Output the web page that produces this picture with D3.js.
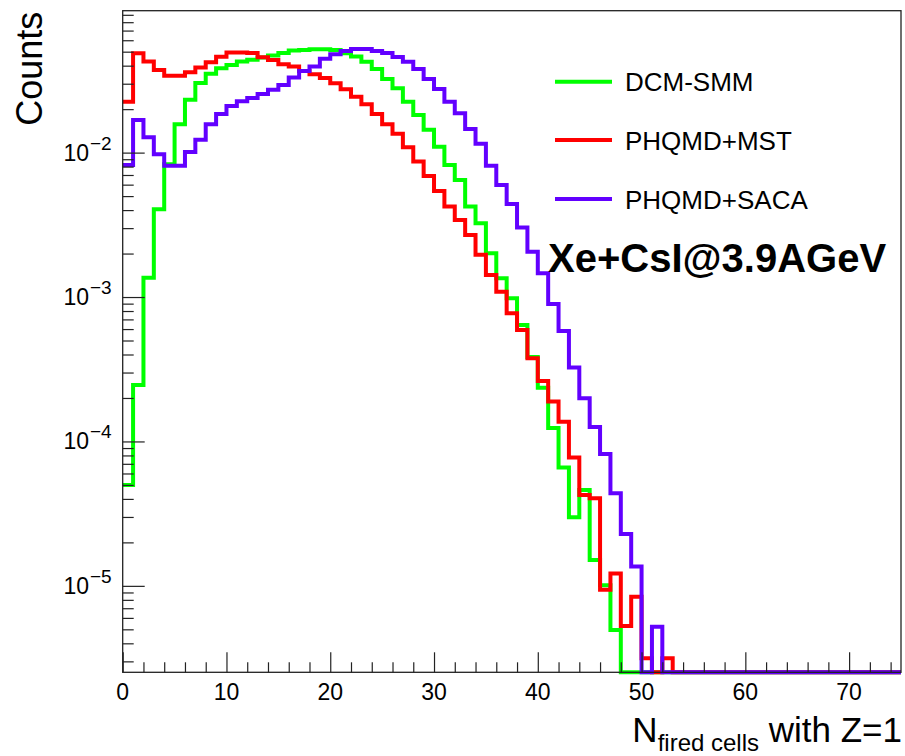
<!DOCTYPE html>
<html>
<head>
<meta charset="utf-8">
<script src="https://cdn.jsdelivr.net/npm/d3@7"></script>
<style>
  html, body { margin: 0; padding: 0; background: #fff; }
  svg { display: block; }
  text { font-family: "Liberation Sans", Arial, Helvetica, sans-serif; fill: #000; }
</style>
</head>
<body>
<svg id="chart" width="905" height="756"></svg>
<script>
// ---------------- data ----------------
// bin low edges (bin width 1), N fired cells
const binLow = d3.range(0, 75);
const xMax = 75;

const seriesNames = ["DCM-SMM", "PHQMD+MST", "PHQMD+SACA"];
const seriesColors = ["#00ff00", "#ff0000", "#6200ff"];

const dcmSmm = [
  5.0e-5, 2.46e-4, 1.36e-3, 4.06e-3, 8.3e-3, 0.0157, 0.0232, 0.0304, 0.0351, 0.0384,
  0.0405, 0.0427, 0.0440, 0.0455, 0.0470, 0.0490, 0.0510, 0.0514, 0.0520, 0.0520,
  0.0514, 0.0488, 0.0463, 0.0425, 0.0380, 0.0324, 0.0279, 0.0225, 0.0182, 0.0144,
  0.0110, 0.00822, 0.00647, 0.00423, 0.00324, 0.00201, 0.00135, 9.8e-4, 6.41e-4, 3.85e-4,
  2.35e-4, 1.24e-4, 6.6e-5, 2.98e-5, 4.61e-5, 1.51e-5, 1.01e-5, 4.94e-6, 0, 0,
  0, 0, 0, 0, 0, 0, 0, 0, 0, 0,
  0, 0, 0, 0, 0, 0, 0, 0, 0, 0,
  0, 0, 0, 0, 0
];

const phqmdMst = [
  0.0225, 0.0488, 0.0427, 0.0374, 0.0341, 0.0341, 0.0360, 0.0388, 0.0423, 0.0462,
  0.0493, 0.0493, 0.0490, 0.0458, 0.0438, 0.0409, 0.0394, 0.0368, 0.0349, 0.0328,
  0.0302, 0.0275, 0.0244, 0.0216, 0.0185, 0.0157, 0.0135, 0.0109, 0.00867, 0.0069,
  0.00543, 0.00423, 0.00342, 0.00269, 0.00196, 0.00142, 0.00109, 7.73e-4, 5.92e-4, 3.77e-4,
  2.62e-4, 1.89e-4, 1.37e-4, 7.74e-5, 4.26e-5, 4.04e-5, 9.4e-6, 1.22e-5, 5.27e-6, 8.42e-6,
  3.15e-6, 0, 3.15e-6, 0, 0, 0, 0, 0, 0, 0,
  0, 0, 0, 0, 0, 0, 0, 0, 0, 0,
  0, 0, 0, 0, 0
];

const phqmdSaca = [
  0.00822, 0.0168, 0.0128, 0.00975, 0.0081, 0.0081, 0.0101, 0.0123, 0.0157, 0.0185,
  0.0210, 0.0227, 0.0239, 0.0255, 0.0272, 0.0294, 0.0331, 0.0368, 0.0394, 0.0446,
  0.0480, 0.0506, 0.0522, 0.0522, 0.0506, 0.0490, 0.0460, 0.0425, 0.0380, 0.0324,
  0.0276, 0.0225, 0.0187, 0.0146, 0.0115, 0.0081, 0.00597, 0.00441, 0.00303, 0.00206,
  0.00146, 8.96e-4, 5.82e-4, 3.25e-4, 1.99e-4, 1.26e-4, 8.19e-5, 4.38e-5, 2.29e-5, 1.36e-5,
  0, 5.21e-6, 0, 0, 0, 0, 0, 0, 0, 0,
  0, 0, 0, 0, 0, 0, 0, 0, 0, 0,
  0, 0, 0, 0, 0
];

const yMin = 2.52e-6, yMax = 0.0961;
const xMajorTicks = [0, 10, 20, 30, 40, 50, 60, 70];
const xMinorStep = 2;
const yDecades = [1e-5, 1e-4, 1e-3, 1e-2];
const yDecadeExp = ["−5", "−4", "−3", "−2"];

const titleText = "Xe+CsI@3.9AGeV";
const yTitle = "Counts";

// ---------------- layout ----------------
const svg = d3.select("#chart");
const L = 122.7, R = 901, T = 10.7, B = 672.3;

const x = d3.scaleLinear().domain([0, xMax]).range([L, R]);
const y = d3.scaleLog().domain([yMin, yMax]).range([B, T]);

// histograms
const allSeries = [dcmSmm, phqmdMst, phqmdSaca];
const line = d3.line()
  .x(d => x(d[0]))
  .y(d => y(Math.max(d[1], yMin)))
  .curve(d3.curveStepAfter);

allSeries.forEach((vals, si) => {
  const pts = binLow.map((b, i) => [b, vals[i]]);
  pts.push([xMax, vals[vals.length - 1]]);
  svg.append("path")
    .attr("d", line(pts))
    .attr("fill", "none")
    .attr("stroke", seriesColors[si])
    .attr("stroke-width", 4)
    .attr("stroke-linejoin", "miter");
});

// frame
svg.append("rect")
  .attr("x", L).attr("y", T)
  .attr("width", R - L).attr("height", B - T)
  .attr("fill", "none").attr("stroke", "#222").attr("stroke-width", 1.3);

// y ticks (log)
const yTickVals = y.ticks(20).filter(v => v >= yMin && v <= yMax);
const yAxis = d3.axisRight(y).tickValues(yTickVals).tickSize(11).tickFormat("");
const gy = svg.append("g").attr("transform", `translate(${L},0)`).call(yAxis);
gy.select(".domain").remove();
gy.selectAll(".tick line")
  .attr("stroke", "#222").attr("stroke-width", 1.2)
  .attr("x2", d => yDecades.some(v => Math.abs(v - d) / v < 1e-6) ? 22 : 11);

// y labels
yDecades.forEach((v, i) => {
  svg.append("text")
    .attr("x", 89).attr("y", y(v) + 8)
    .attr("text-anchor", "end")
    .style("font-size", "23px")
    .text("10");
  svg.append("text")
    .attr("x", 90).attr("y", y(v) - 3)
    .attr("text-anchor", "start")
    .style("font-size", "19px")
    .text(yDecadeExp[i]);
});

// x ticks
const xTickVals = d3.range(0, xMax + 0.001, xMinorStep);
const xAxis = d3.axisTop(x).tickValues(xTickVals).tickSize(10).tickFormat("");
const gx = svg.append("g").attr("transform", `translate(0,${B})`).call(xAxis);
gx.select(".domain").remove();
gx.selectAll(".tick line")
  .attr("stroke", "#222").attr("stroke-width", 1.2)
  .attr("y2", d => xMajorTicks.includes(d) ? -20 : -10);

// x labels
xMajorTicks.forEach(v => {
  svg.append("text")
    .attr("x", x(v)).attr("y", 700)
    .attr("text-anchor", "middle")
    .style("font-size", "23px")
    .text(v);
});

// axis titles
svg.append("text")
  .attr("transform", `translate(42,${T + 1}) rotate(-90)`)
  .attr("text-anchor", "end")
  .style("font-size", "36px")
  .text(yTitle);

const xt = svg.append("text")
  .attr("x", 902).attr("y", 742)
  .attr("text-anchor", "end")
  .style("font-size", "35px");
xt.append("tspan").text("N");
xt.append("tspan").attr("dy", 9).style("font-size", "24px").text("fired cells");
xt.append("tspan").attr("dy", -9).text(" with Z=1");

// legend
const legY = [81.7, 140, 199];
seriesNames.forEach((n, i) => {
  svg.append("line")
    .attr("x1", 555).attr("x2", 612)
    .attr("y1", legY[i]).attr("y2", legY[i])
    .attr("stroke", seriesColors[i]).attr("stroke-width", 4);
  svg.append("text")
    .attr("x", 625).attr("y", legY[i] + 9.5)
    .style("font-size", "26px")
    .text(n);
});

// title label
svg.append("text")
  .attr("x", 548).attr("y", 272)
  .style("font-size", "40px").style("font-weight", "bold")
  .text(titleText);
</script>
</body>
</html>
